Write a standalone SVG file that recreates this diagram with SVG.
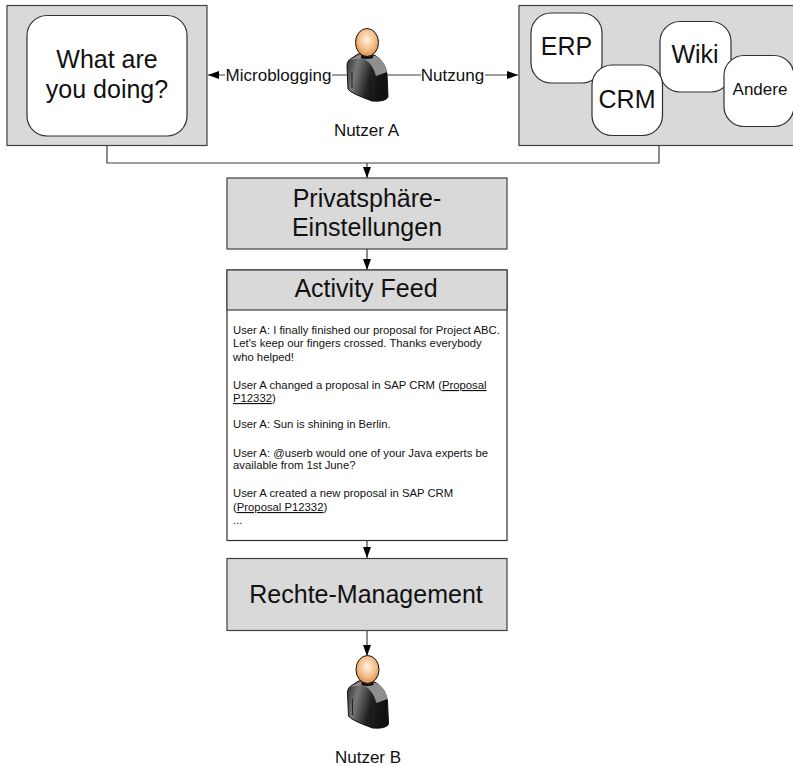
<svg xmlns="http://www.w3.org/2000/svg" xmlns:xlink="http://www.w3.org/1999/xlink" width="793" height="766" viewBox="0 0 793 766">
<style>
text{font-family:"Liberation Sans",Arial,sans-serif;fill:#111}
.box{fill:#d9d9d9;stroke:#404040;stroke-width:1.2}
.white{fill:#fff;stroke:#303030;stroke-width:1.2}
.line{fill:none;stroke:#404040;stroke-width:1.2}
.m{text-anchor:middle}
.t{font-size:11.3px}
.l{font-size:25px}
.s{font-size:17px}
.u{text-decoration:underline}
</style>
<defs>
<marker id="arrow" markerUnits="userSpaceOnUse" markerWidth="12" markerHeight="10" refX="11" refY="4" orient="auto"><path d="M0 0L11 4L0 8Z" fill="#000"/></marker>
<radialGradient id="head" cx="0.5" cy="0.4" r="0.6"><stop offset="0" stop-color="#fff2e4"/><stop offset="0.6" stop-color="#f5bd88"/><stop offset="1" stop-color="#d98d4a"/></radialGradient>
<linearGradient id="body" x1="0" y1="0" x2="1" y2="0.3"><stop offset="0" stop-color="#2a2a2a"/><stop offset="0.3" stop-color="#777"/><stop offset="0.65" stop-color="#222"/><stop offset="1" stop-color="#111"/></linearGradient>
<g id="person">
<path d="M352 58Q347 60 347 66L348 89Q350 93 372 101Q386 102 388 97L387 74Q385 62 376 56L368 53L358 54Z" fill="url(#body)" stroke="#111" stroke-width="1"/>
<path d="M349 60L360 55L376 56Q384 60 387 72L376 76Q372 62 362 58Z" fill="#8f8f8f"/>
<path d="M352 72V88M370 80V99M377 76V99" stroke="#111" stroke-width="0.8" fill="none"/>
<path d="M361 52L373 52V58Q367 60 361 58Z" fill="#111"/>
<ellipse cx="367" cy="42.5" rx="11.5" ry="14" fill="url(#head)" stroke="#111" stroke-width="1"/>
</g>
</defs>
<g id="connectors">
<path class="line" d="M347 75H208" marker-end="url(#arrow)"/>
<path class="line" d="M387 75H518" marker-end="url(#arrow)"/>
<path class="line" d="M107 146V163H659V146"/>
<path class="line" d="M367 163V178" marker-end="url(#arrow)"/>
<path class="line" d="M367 249V270" marker-end="url(#arrow)"/>
<path class="line" d="M367 541V558" marker-end="url(#arrow)"/>
<path class="line" d="M367 630V656" marker-end="url(#arrow)"/>
<rect x="225" y="66" width="107" height="18" fill="#fff"/>
<rect x="421" y="66" width="64" height="18" fill="#fff"/>
<text x="278.500" y="81" class="m s">Microblogging</text>
<text x="452.500" y="81" class="m s">Nutzung</text>
</g>
<g id="microblogging">
<rect class="box" x="7" y="5.500" width="200" height="140"/>
<rect class="white" x="27" y="15.500" width="160" height="120.500" rx="20"/>
<text x="107" y="68" class="m l">What are</text>
<text x="107" y="98" class="m l">you doing?</text>
</g>
<g id="nutzer-a">
<use xlink:href="#person" href="#person"/>
<text x="366.500" y="136" class="m s">Nutzer A</text>
</g>
<g id="anwendungen">
<rect class="box" x="519" y="5.500" width="280" height="140"/>
</g>
<g id="erp"><rect class="white" x="531" y="13" width="71" height="70" rx="20"/><text x="566.500" y="55" class="m l">ERP</text></g>
<g id="wiki"><rect class="white" x="660" y="21.500" width="71" height="70.500" rx="20"/><text x="695" y="63" class="m l">Wiki</text></g>
<g id="crm"><rect class="white" x="592" y="65" width="70.500" height="70.500" rx="20"/><text x="627" y="108" class="m l">CRM</text></g>
<g id="andere"><rect class="white" x="724" y="55.500" width="70" height="71" rx="20"/><text x="760" y="95" class="m s">Andere</text></g>
<g id="privatsphaere">
<rect class="box" x="227" y="178" width="280" height="71"/>
<text x="367" y="207" class="m l">Privatsphäre-</text>
<text x="367" y="236" class="m l">Einstellungen</text>
</g>
<g id="activity-feed">
<rect class="white" x="227" y="270" width="280" height="270.500"/>
<rect class="box" x="227" y="270" width="280" height="40"/>
<text x="366" y="297" class="m l">Activity Feed</text>
<text class="t" x="233" y="334">User A: I finally finished our proposal for Project ABC.</text>
<text class="t" x="233" y="347">Let's keep our fingers crossed. Thanks everybody</text>
<text class="t" x="233" y="361">who helped!</text>
<text class="t" x="233" y="389">User A changed a proposal in SAP CRM (<tspan class="u">Proposal</tspan></text>
<text class="t" x="233" y="402"><tspan class="u">P12332</tspan>)</text>
<text class="t" x="233" y="428">User A: Sun is shining in Berlin.</text>
<text class="t" x="233" y="457">User A: @userb would one of your Java experts be</text>
<text class="t" x="233" y="469">available from 1st June?</text>
<text class="t" x="233" y="497">User A created a new proposal in SAP CRM</text>
<text class="t" x="233" y="511">(<tspan class="u">Proposal P12332</tspan>)</text>
<text class="t" x="233" y="524">...</text>
</g>
<g id="rechte-management">
<rect class="box" x="227" y="558.500" width="280" height="72"/>
<text x="366" y="603" class="m l">Rechte-Management</text>
</g>
<g id="nutzer-b">
<use xlink:href="#person" href="#person" transform="translate(0.500 627)"/>
<text x="368" y="763" class="m s">Nutzer B</text>
</g>
</svg>
